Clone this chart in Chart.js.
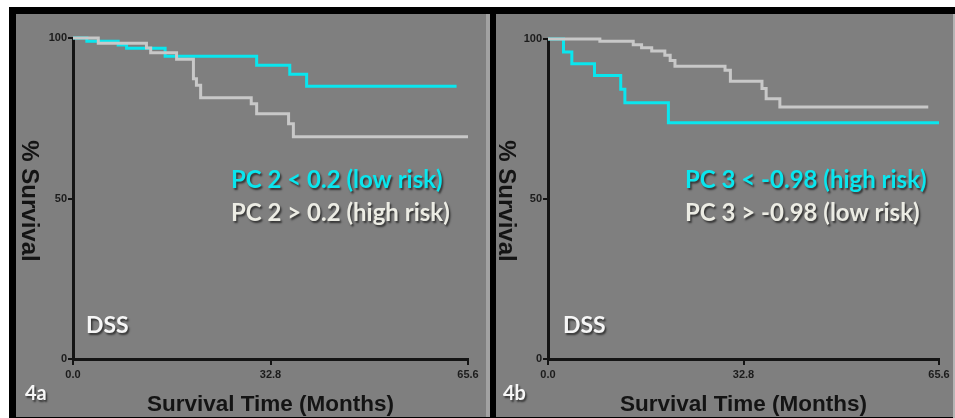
<!DOCTYPE html>
<html>
<head>
<meta charset="utf-8">
<script src="https://cdn.jsdelivr.net/npm/chart.js@4.4.1/dist/chart.umd.min.js"></script>
<style>
  body { margin: 0; background: #fff; width: 955px; height: 418px; overflow: hidden; position: relative; }
  .frame { position: absolute; left: 9px; top: 7px; width: 946px; height: 411px; background: #000; }
  .panel { position: absolute; top: 14px; height: 403px; background: #7f7f7f; overflow: hidden; }
  #panelA { left: 16px; width: 470px; }
  #gap { position: absolute; left: 486px; top: 14px; width: 4px; height: 403px; background: #a2a2a2; }
  #panelB { left: 496px; width: 457px; }
  #edge { position: absolute; left: 953px; top: 14px; width: 2px; height: 404px; background: #b4b4b4; }
  canvas { position: absolute; left: 0; top: 0; }
</style>
</head>
<body>
<div class="frame"></div>
<div class="panel" id="panelA"><canvas id="chartA" width="470" height="404"></canvas></div>
<div id="gap"></div>
<div class="panel" id="panelB"><canvas id="chartB" width="457" height="404"></canvas></div>
<div id="edge"></div>
<script>
const xTicks = [0, 32.8, 65.6];
const yTicks = [0, 50, 100];

// 4a : PC 2
const aHighTime = [0, 4.2, 12.2, 12.9, 17.2, 20.0, 20.5, 21.2, 29.6, 30.5, 35.8, 36.6, 65.6];
const aHighSurv = [100, 98.4, 96.9, 95.4, 93.4, 87.3, 85.3, 81.4, 79.5, 76.4, 73.3, 69.2, 69.2];
const aLowTime = [0, 2.3, 7.5, 8.9, 15.3, 30.5, 36.0, 38.8, 63.7];
const aLowSurv = [100, 99.0, 97.8, 96.8, 94.3, 91.5, 88.7, 85.0, 85.0];

// 4b : PC 3
const bLowTime = [0, 8.7, 14.3, 15.7, 17.4, 19.6, 20.5, 21.3, 29.7, 30.6, 35.9, 36.6, 38.9, 63.8];
const bLowSurv = [100, 99.3, 98.2, 97.3, 96.25, 94.9, 93.3, 91.5, 90.2, 86.8, 84.5, 81.3, 78.75, 78.75];
const bHighTime = [0, 2.6, 4.0, 7.8, 12.2, 12.9, 20.2, 65.6];
const bHighSurv = [100, 95.9, 92.3, 88.6, 84.3, 80.1, 73.8, 73.8];

const CYAN = '#0ae6ee';
const GREY = '#c8c8c8';
const INK = '#141414';

function points(times, surv) {
    return times.map((t, i) => ({ x: t, y: surv[i] }));
}

const panelText = {
    id: 'panelText',
    afterDraw(chart, args, opts) {
        const ctx = chart.ctx;
        ctx.save();
        ctx.translate(opts.yTitleX, opts.yTitleY);
        ctx.rotate(Math.PI / 2);
        ctx.font = 'bold 24px "Liberation Sans"';
        ctx.fillStyle = INK;
        ctx.textAlign = 'center';
        ctx.textBaseline = 'middle';
        ctx.fillText('% Survival', 0, 0);
        ctx.restore();

        ctx.save();
        ctx.shadowColor = 'rgba(0,0,0,0.6)';
        ctx.shadowOffsetX = 1.5;
        ctx.shadowOffsetY = 1.5;
        ctx.shadowBlur = 2;
        ctx.textAlign = 'left';
        ctx.textBaseline = 'alphabetic';
        ctx.font = 'bold 24px Lato';
        opts.lines.forEach((line, i) => {
            ctx.fillStyle = line.color;
            ctx.fillText(line.text, opts.textX, opts.textY + i * 33);
        });
        ctx.fillStyle = '#f6f6f6';
        ctx.font = 'bold 23px Lato';
        ctx.fillText('DSS', opts.dssX, opts.dssY);
        ctx.font = 'bold 20px Lato';
        ctx.fillText(opts.tag, opts.tagX, opts.tagY);
        ctx.restore();
    }
};

function makeChart(id, datasets, area, text) {
    const canvas = document.getElementById(id);
    return new Chart(canvas, {
        type: 'line',
        data: {
            datasets: datasets.map(d => ({
                data: d.data,
                borderColor: d.color,
                borderWidth: 3,
                pointRadius: 0,
                stepped: 'before',
                fill: false,
                clip: false
            }))
        },
        options: {
            responsive: false,
            animation: false,
            devicePixelRatio: 1,
            layout: { padding: { top: area.top, right: canvas.width - area.right, left: 0, bottom: 0 } },
            plugins: {
                legend: { display: false },
                tooltip: { enabled: false },
                panelText: text
            },
            scales: {
                x: {
                    type: 'linear',
                    min: 0,
                    max: 65.6,
                    afterBuildTicks: s => { s.ticks = xTicks.map(v => ({ value: v })); },
                    afterFit: s => { s.height = canvas.height - area.bottom; },
                    border: { display: true, color: INK, width: 3 },
                    grid: { drawOnChartArea: false, drawTicks: true, tickLength: 6, color: INK, lineWidth: 2 },
                    ticks: {
                        autoSkip: false,
                        maxRotation: 0,
                        padding: 3,
                        color: '#1c1c1c',
                        font: { family: 'Liberation Sans', weight: 'bold', size: 11 },
                        callback: v => v.toFixed(1)
                    },
                    title: {
                        display: true,
                        text: 'Survival Time (Months)',
                        color: INK,
                        padding: { top: 0, bottom: 0 },
                        font: { family: 'Liberation Sans', weight: 'bold', size: 22.5 }
                    }
                },
                y: {
                    min: 0,
                    max: 100,
                    afterBuildTicks: s => { s.ticks = yTicks.map(v => ({ value: v })); },
                    afterFit: s => { s.width = area.left; },
                    border: { display: true, color: INK, width: 3 },
                    grid: { drawOnChartArea: false, drawTicks: true, tickLength: 5, color: INK, lineWidth: 2 },
                    ticks: {
                        padding: 1,
                        color: '#1c1c1c',
                        font: { family: 'Liberation Sans', weight: 'bold', size: 11 }
                    }
                }
            }
        },
        plugins: [panelText]
    });
}

makeChart('chartA', [
    { data: points(aHighTime, aHighSurv), color: GREY },
    { data: points(aLowTime, aLowSurv), color: CYAN }
], { left: 57, right: 452, top: 24, bottom: 345 }, {
    yTitleX: 13, yTitleY: 187,
    textX: 215, textY: 174,
    lines: [
        { text: 'PC 2 < 0.2 (low risk)', color: CYAN },
        { text: 'PC 2 > 0.2 (high risk)', color: '#ececE4' }
    ],
    dssX: 70, dssY: 319,
    tag: '4a', tagX: 9, tagY: 386
});

makeChart('chartB', [
    { data: points(bLowTime, bLowSurv), color: GREY },
    { data: points(bHighTime, bHighSurv), color: CYAN }
], { left: 52, right: 443, top: 25, bottom: 345 }, {
    yTitleX: 10, yTitleY: 187,
    textX: 189, textY: 174,
    lines: [
        { text: 'PC 3 < -0.98 (high risk)', color: CYAN },
        { text: 'PC 3 > -0.98 (low risk)', color: '#ececE4' }
    ],
    dssX: 67, dssY: 319,
    tag: '4b', tagX: 7, tagY: 386
});
</script>
</body>
</html>
